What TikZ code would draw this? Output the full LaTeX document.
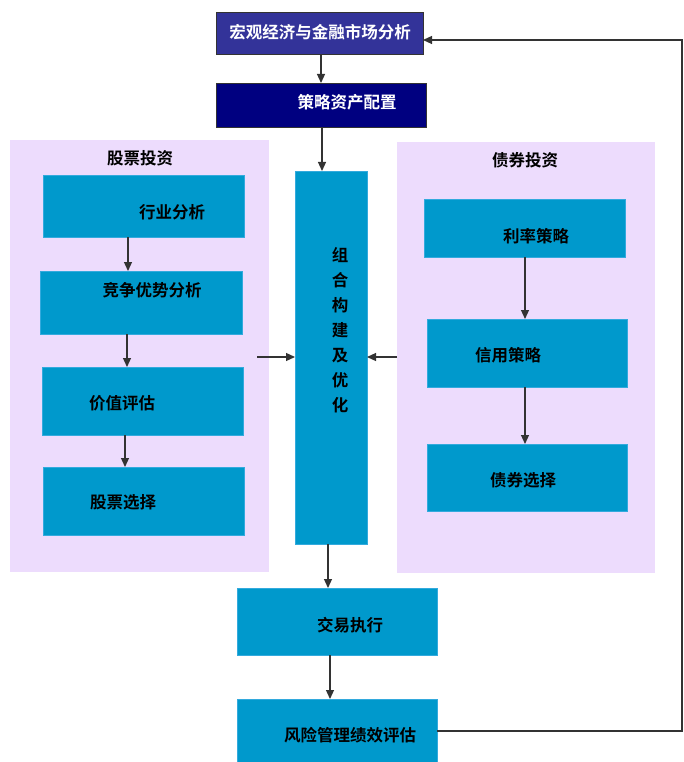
\documentclass[tikz,border=0pt]{standalone}
\usepackage{fontspec}
\setmainfont{Noto Sans CJK SC}[BoldFont={* Bold}]
\usetikzlibrary{arrows.meta,positioning}
\definecolor{boxblue}{HTML}{0099CC}
\definecolor{boxedge}{HTML}{33AADD}
\definecolor{panelbg}{HTML}{EDDCFD}
\definecolor{topA}{HTML}{333399}
\definecolor{topB}{HTML}{000080}
\definecolor{arrowc}{HTML}{333333}
\tikzset{
  x=1pt,y=-1pt,
  panel/.style={fill=panelbg,draw=none},
  bluebox/.style={fill=boxblue,draw=boxedge,line width=0.6pt},
  topbox/.style={draw=black!80,line width=0.6pt},
  lbl/.style={font=\bfseries\fontsize{16.5}{19}\selectfont,inner sep=0pt,anchor=center},
  wlbl/.style={lbl,text=white},
  arr/.style={draw=arrowc,line width=1.2pt,-{Triangle[length=9pt,width=8pt]}},
  fb/.style={draw=arrowc,line width=0.9pt}
}
\begin{document}
\begin{tikzpicture}
\useasboundingbox (0,0) rectangle (683,762);
% panels
\fill[panel] (10,140) rectangle (269,572);
\fill[panel] (397,142) rectangle (655,573);
% top boxes
\filldraw[topbox,fill=topA] (216,12) rectangle (423,54);
\node[coordinate] (b1n) at (319.5,12) {};
\node[coordinate] (b1s) at (321,54) {};
\node[coordinate] (b1e) at (423,40) {};
\node[wlbl] (t1) at (320,32) {宏观经济与金融市场分析};
\filldraw[topbox,fill=topB] (216,83) rectangle (426,127);
\node[coordinate] (b2n) at (321,83) {};
\node[coordinate] (b2s) at (322,127) {};
\node[wlbl] (t2) at (347,102) {策略资产配置};
% panel titles
\node[lbl] (p1) at (140,158) {股票投资};
\node[lbl] (p2) at (525,160) {债券投资};
% left boxes
\filldraw[bluebox] (43,175) rectangle (244,237);
\node[lbl] (l1t) at (172,212) {行业分析};
\filldraw[bluebox] (40,271) rectangle (242,334);
\node[lbl] (l2t) at (152,290) {竞争优势分析};
\filldraw[bluebox] (42,367) rectangle (243,435);
\node[lbl] (l3t) at (122,403) {价值评估};
\filldraw[bluebox] (43,467) rectangle (244,535);
\node[lbl] (l4t) at (123,502) {股票选择};
\node[coordinate] (l1s) at (128,237) {};
\node[coordinate] (l2n) at (128,271) {};
\node[coordinate] (l2s) at (127,334) {};
\node[coordinate] (l3n) at (127,367) {};
\node[coordinate] (l3s) at (125,435) {};
\node[coordinate] (l4n) at (125,467) {};
% right boxes
\filldraw[bluebox] (424,199) rectangle (625,257);
\node[lbl] (r1t) at (536,236) {利率策略};
\filldraw[bluebox] (427,319) rectangle (627,387);
\node[lbl] (r2t) at (508,355) {信用策略};
\filldraw[bluebox] (427,444) rectangle (627,511);
\node[lbl] (r3t) at (523,480) {债券选择};
\node[coordinate] (r1s) at (525,257) {};
\node[coordinate] (r2n) at (525,319) {};
\node[coordinate] (r2s) at (525,387) {};
\node[coordinate] (r3n) at (525,444) {};
% center column
\filldraw[bluebox] (295,171) rectangle (367,544);
\node[coordinate] (cn) at (322,171) {};
\node[coordinate] (cs) at (328,544) {};
\node[coordinate] (cw) at (295,357) {};
\node[coordinate] (ce) at (367,357) {};
\node[lbl,align=center,font=\bfseries\fontsize{16.5}{25}\selectfont] (ct) at (340,330) {组\\合\\构\\建\\及\\优\\化};
% bottom boxes
\filldraw[bluebox] (237,588) rectangle (437,655);
\node[lbl] (e1t) at (350,625) {交易执行};
\filldraw[bluebox] (237,699) rectangle (437,762);
\node[lbl] (e2t) at (350,735) {风险管理绩效评估};
\node[coordinate] (e1n) at (328,588) {};
\node[coordinate] (e1s) at (330,655) {};
\node[coordinate] (e2n) at (330,699) {};
\node[coordinate] (e2e) at (437,731) {};
% free ends
\coordinate (la) at (257,357);
\coordinate (ra) at (397,357);
\coordinate (fr1) at (682,731);
\coordinate (fr2) at (682,40);
% arrows
\draw[arr] (b1s) -- (b2n);
\draw[arr] (b2s) -- (cn);
\draw[arr] (l1s) -- (l2n);
\draw[arr] (l2s) -- (l3n);
\draw[arr] (l3s) -- (l4n);
\draw[arr] (r1s) -- (r2n);
\draw[arr] (r2s) -- (r3n);
\draw[arr] (la) -- (cw);
\draw[arr] (ra) -- (ce);
\draw[arr] (cs) -- (e1n);
\draw[arr] (e1s) -- (e2n);
\draw[arr] (e2e) -- (fr1) -- (fr2) -- (b1e);
\end{tikzpicture}
\end{document}
